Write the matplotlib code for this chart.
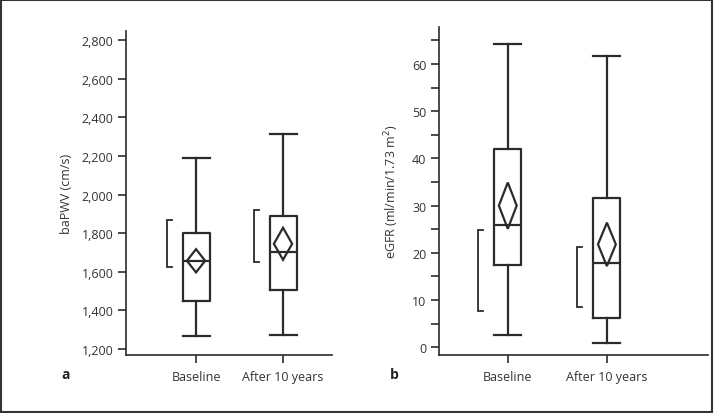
import matplotlib
matplotlib.use("Agg")
import matplotlib.pyplot as plt
from matplotlib.patches import Polygon, Rectangle
from matplotlib.ticker import FuncFormatter, MultipleLocator

plt.rcParams['font.family'] = ['Open Sans', 'DejaVu Sans']

categories = ["Baseline", "After 10 years"]

# Panel a: baPWV (cm/s)
a_whislo = [1265, 1275]
a_q1 = [1450, 1505]
a_med = [1658, 1702]
a_q3 = [1800, 1887]
a_whishi = [2190, 2312]
a_mean = [1657, 1745]
a_mean_ci = [60, 83]
a_bracket_lo = [1626, 1649]
a_bracket_hi = [1868, 1921]

# Panel b: eGFR (ml/min/1.73 m2)
b_whislo = [2.5, 0.9]
b_q1 = [17.5, 6.1]
b_med = [25.8, 17.8]
b_q3 = [42.0, 31.6]
b_whishi = [64.2, 61.7]
b_mean = [30.0, 21.8]
b_mean_ci = [4.9, 4.6]
b_bracket_lo = [7.6, 8.5]
b_bracket_hi = [24.9, 21.2]

C = '#2b2b2b'
LW = 1.6

fig = plt.figure(figsize=(7.14, 4.14), dpi=100)
fig.patches.append(Rectangle((0.0015, 0.002), 0.996, 0.995, transform=fig.transFigure,
                             fill=False, edgecolor='#333333', linewidth=1.5))


def panel(ax, whislo, q1, med, q3, whishi, mean, ci, blo, bhi,
          boxw, diaw, bracket_off, serif, ylim, xlim):
    stats = []
    for i in range(len(categories)):
        stats.append(dict(med=med[i], q1=q1[i], q3=q3[i],
                          whislo=whislo[i], whishi=whishi[i], fliers=[]))
    pos = [1, 2]
    ax.bxp(stats, positions=pos, widths=boxw, capwidths=boxw, showfliers=False,
           boxprops=dict(color=C, linewidth=LW),
           whiskerprops=dict(color=C, linewidth=LW),
           capprops=dict(color=C, linewidth=LW),
           medianprops=dict(color=C, linewidth=LW))
    for i, p in enumerate(pos):
        m, c = mean[i], ci[i]
        d = diaw / 2
        ax.add_patch(Polygon([[p - d, m], [p, m + c], [p + d, m], [p, m - c]],
                             closed=True, fill=False, edgecolor=C, linewidth=LW, zorder=3))
        bx = p - bracket_off
        ax.plot([bx + serif, bx, bx, bx + serif], [blo[i], blo[i], bhi[i], bhi[i]],
                color=C, linewidth=1.3, solid_joinstyle='miter')
    ax.set_xlim(*xlim)
    ax.set_ylim(*ylim)
    ax.set_xticks(pos)
    ax.set_xticklabels(categories)
    for s in ['top', 'right']:
        ax.spines[s].set_visible(False)
    for s in ['left', 'bottom']:
        ax.spines[s].set_color(C)
        ax.spines[s].set_linewidth(1.2)
    ax.tick_params(axis='both', which='both', direction='out', length=6, width=1.2,
                   color=C, labelcolor='#333333', labelsize=9)
    ax.tick_params(axis='y', pad=3)
    ax.tick_params(axis='x', pad=5)


# Panel a
axa = fig.add_axes([126 / 714, 58 / 414, 206 / 714, 324 / 414])
panel(axa, a_whislo, a_q1, a_med, a_q3, a_whishi, a_mean, a_mean_ci,
      a_bracket_lo, a_bracket_hi, boxw=0.31, diaw=0.21, bracket_off=0.33,
      serif=0.05, ylim=(1169, 2847), xlim=(0.195, 2.563))
axa.yaxis.set_major_locator(MultipleLocator(200))
axa.yaxis.set_major_formatter(FuncFormatter(lambda v, p: f"{int(v):,}"))
axa.set_ylabel("baPWV (cm/s)", fontsize=9, color='#333333', labelpad=6)

# Panel b
axb = fig.add_axes([439 / 714, 58 / 414, 269 / 714, 327.7 / 414])
panel(axb, b_whislo, b_q1, b_med, b_q3, b_whishi, b_mean, b_mean_ci,
      b_bracket_lo, b_bracket_hi, boxw=0.273, diaw=0.18, bracket_off=0.30,
      serif=0.05, ylim=(-1.63, 67.77), xlim=(0.306, 3.02))
axb.yaxis.set_major_locator(MultipleLocator(10))
axb.yaxis.set_minor_locator(MultipleLocator(5))
axb.set_ylabel("eGFR (ml/min/1.73 m$^2$)", fontsize=9, color='#333333', labelpad=8)

fig.text(66 / 714, 1 - 375 / 414, "a", fontsize=10, fontweight='bold', color='#222222',
         ha='center', va='center')
fig.text(394 / 714, 1 - 375 / 414, "b", fontsize=10, fontweight='bold', color='#222222',
         ha='center', va='center')

fig.savefig("out.png", dpi=100)
